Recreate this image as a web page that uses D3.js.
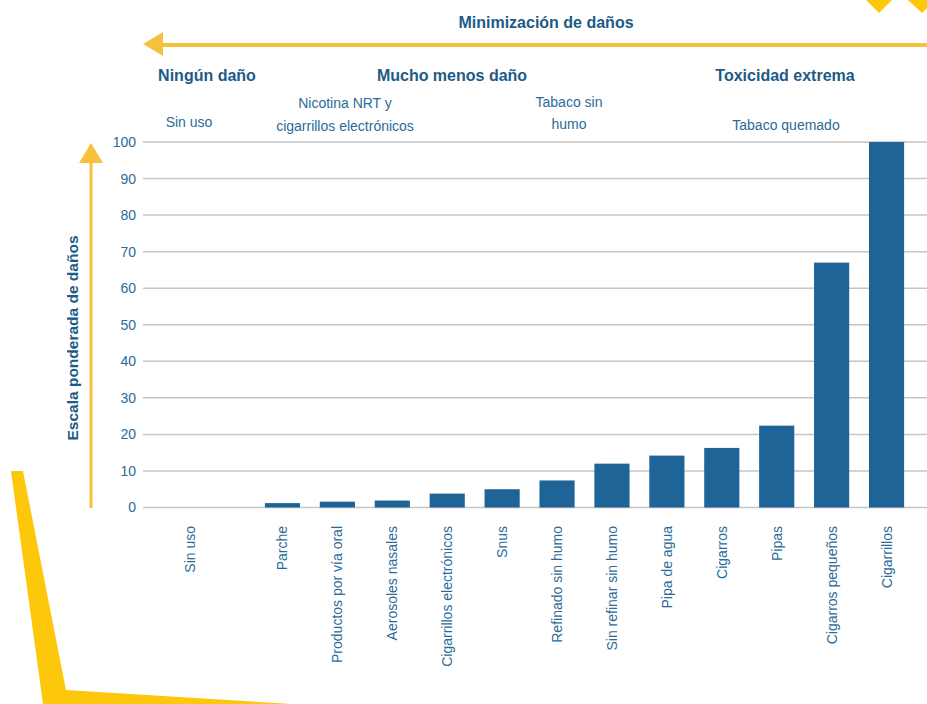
<!DOCTYPE html>
<html lang="es">
<head>
<meta charset="utf-8">
<script src="https://cdn.jsdelivr.net/npm/d3@7"></script>
<style>
  html, body { margin: 0; padding: 0; background: #ffffff; }
  svg { display: block; font-family: "Liberation Sans", Arial, sans-serif; }
</style>
</head>
<body>
<svg id="chart" width="927" height="704"></svg>
<script>
// Harm scale per nicotine product (weighted, 0-100)
const noUseCategory = "Sin uso";
const noUseValue = 0;
const products = [
  "Parche", "Productos por vía oral", "Aerosoles nasales", "Cigarrillos electrónicos",
  "Snus", "Refinado sin humo", "Sin refinar sin humo", "Pipa de agua",
  "Cigarros", "Pipas", "Cigarros pequeños", "Cigarrillos"
];
const harmValues = [1.2, 1.6, 1.9, 3.8, 5.0, 7.4, 12.0, 14.2, 16.3, 22.4, 67.0, 100.0];
const yTicks = [0, 10, 20, 30, 40, 50, 60, 70, 80, 90, 100];

const title = "Minimización de daños";
const yTitle = "Escala ponderada de daños";
const groupTitles = ["Ningún daño", "Mucho menos daño", "Toxicidad extrema"];
const groupSubtitles = [["Sin uso"], ["Nicotina NRT y", "cigarrillos electrónicos"], ["Tabaco sin", "humo"], ["Tabaco quemado"]];

const BLUE = "#1f6497";
const TEXT_BLUE = "#2b6b99";
const HEAD_BLUE = "#1d5b87";
const YELLOW = "#fdc70c";
const ARROW_YELLOW = "#f6c23e";

const svg = d3.select("#chart");

const y = d3.scaleLinear().domain([0, 100]).range([507.5, 142]);
const x = d3.scaleBand().domain(products).range([255, 914]).paddingInner(0.36).paddingOuter(0.18);
const step = x.step();
// the "no use" column sits apart, left of the product columns
const xCenter = c => c === noUseCategory
  ? x(products[0]) + x.bandwidth() / 2 - 1.68 * step
  : x(c) + x.bandwidth() / 2;

// decorative yellow frame pieces
svg.append("path")
  .attr("d", "M11,471 L23,471 L66,690 L292,704 L43,704 Z")
  .attr("fill", YELLOW);
svg.append("path").attr("d", "M866,0 L892,0 L879,13 Z").attr("fill", YELLOW);
svg.append("path").attr("d", "M908,0 L936,0 L922,13 Z").attr("fill", YELLOW);

// horizontal "harm minimisation" arrow
svg.append("line")
  .attr("x1", 158).attr("x2", 927).attr("y1", 45).attr("y2", 45)
  .attr("stroke", ARROW_YELLOW).attr("stroke-width", 4);
svg.append("path").attr("d", "M143,44 L163,32 L163,56 Z").attr("fill", ARROW_YELLOW);

svg.append("text")
  .attr("x", 546).attr("y", 28).attr("text-anchor", "middle")
  .attr("font-size", 16).attr("font-weight", "bold").attr("fill", HEAD_BLUE)
  .text(title);

// group headers
const headerX = [207, 452, 785];
svg.selectAll(".group-title").data(groupTitles).join("text")
  .attr("class", "group-title")
  .attr("x", (d, i) => headerX[i]).attr("y", 81)
  .attr("text-anchor", "middle").attr("font-size", 16).attr("font-weight", "bold")
  .attr("fill", HEAD_BLUE).text(d => d);

const subX = [189, 345, 569, 786];
const subY = [[127], [108, 131], [107, 129], [130]];
groupSubtitles.forEach((lines, i) => {
  lines.forEach((line, j) => {
    svg.append("text")
      .attr("x", subX[i]).attr("y", subY[i][j]).attr("text-anchor", "middle")
      .attr("font-size", 14).attr("fill", TEXT_BLUE).text(line);
  });
});

// gridlines
svg.append("g").selectAll("line").data(yTicks).join("line")
  .attr("x1", 143).attr("x2", 927)
  .attr("y1", d => y(d)).attr("y2", d => y(d))
  .attr("stroke", "#c6c6c6").attr("stroke-width", 1.5);

// y axis labels
const yAxis = d3.axisLeft(y).tickValues(yTicks).tickSize(0).tickPadding(0);
const gy = svg.append("g").attr("transform", "translate(136,0)").call(yAxis);
gy.select(".domain").remove();
gy.selectAll("text")
  .attr("font-size", 14).attr("fill", TEXT_BLUE)
  .attr("font-family", "'Liberation Sans', Arial, sans-serif");

// vertical harm arrow
svg.append("line")
  .attr("x1", 91).attr("x2", 91).attr("y1", 508).attr("y2", 160)
  .attr("stroke", ARROW_YELLOW).attr("stroke-width", 3);
svg.append("path").attr("d", "M91,143 L79,163 L103,163 Z").attr("fill", ARROW_YELLOW);

svg.append("text")
  .attr("transform", "translate(78,338) rotate(-90)")
  .attr("text-anchor", "middle").attr("font-size", 15.5).attr("font-weight", "bold")
  .attr("fill", HEAD_BLUE).text(yTitle);

// bars
const rows = [{ c: noUseCategory, v: noUseValue }].concat(products.map((c, i) => ({ c, v: harmValues[i] })));
svg.append("g").selectAll("rect").data(rows).join("rect")
  .attr("x", d => xCenter(d.c) - x.bandwidth() / 2)
  .attr("width", x.bandwidth())
  .attr("y", d => y(d.v))
  .attr("height", d => y(0) - y(d.v))
  .attr("fill", BLUE);

// category labels
svg.append("g").selectAll("text").data(rows).join("text")
  .attr("transform", d => `translate(${xCenter(d.c) + 5},526) rotate(-90)`)
  .attr("text-anchor", "end").attr("font-size", 14).attr("fill", TEXT_BLUE)
  .text(d => d.c);
</script>
</body>
</html>
